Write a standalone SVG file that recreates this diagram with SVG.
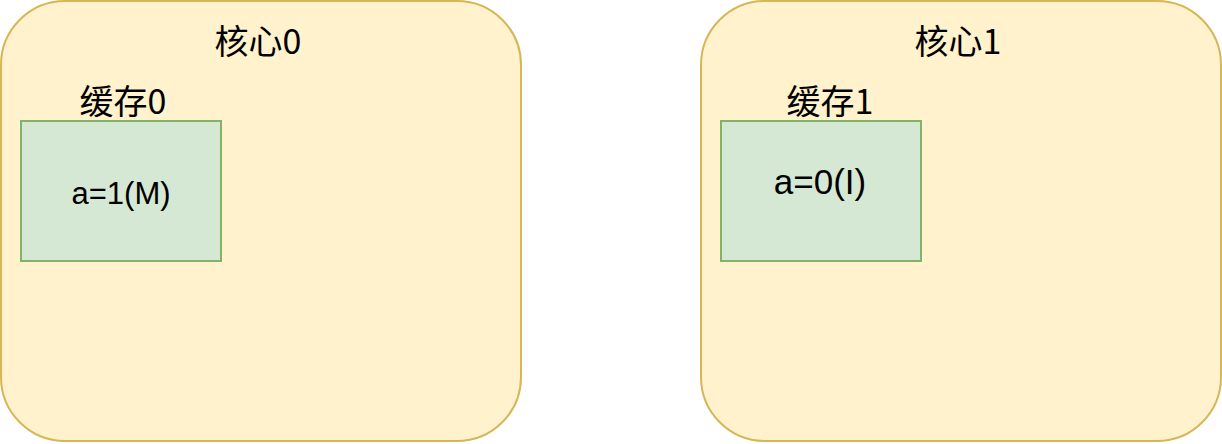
<svg xmlns="http://www.w3.org/2000/svg" width="1222" height="444" viewBox="0 0 1222 444">
<style>
.core{fill:#fff2cc;stroke:#d6b656;stroke-width:2}
.cache{fill:#d5e8d4;stroke:#82b366;stroke-width:2}
.cjk{font-family:"Noto Sans CJK SC","Liberation Sans",sans-serif;font-size:34px;fill:#000;text-anchor:middle}
.val{font-family:"Liberation Sans",Arial,sans-serif;fill:#000;text-anchor:middle}
</style>
<rect width="1222" height="444" fill="#ffffff"/>
<g id="core0">
<rect class="core" x="1" y="1" width="520" height="440" rx="64" ry="64"/>
<text class="cjk" x="258" y="54">核心0</text>
</g>
<g id="cache0">
<text class="cjk" x="123" y="114">缓存0</text>
<rect class="cache" x="21" y="121" width="200" height="140"/>
<text class="val" x="121" y="204" font-size="31">a=1(M)</text>
</g>
<g id="core1">
<rect class="core" x="701" y="1" width="520" height="440" rx="64" ry="64"/>
<text class="cjk" x="958" y="54">核心1</text>
</g>
<g id="cache1">
<text class="cjk" x="830" y="114">缓存1</text>
<rect class="cache" x="721" y="121" width="200" height="140"/>
<text class="val" x="820" y="194" font-size="35">a=0(I)</text>
</g>
<g id="connectors"></g>
</svg>
